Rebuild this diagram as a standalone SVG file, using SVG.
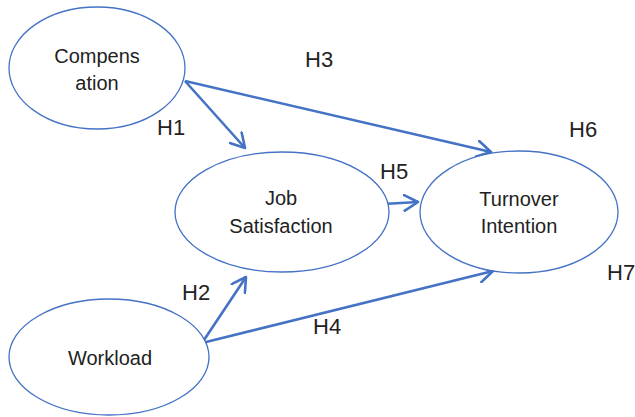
<svg xmlns="http://www.w3.org/2000/svg" width="635" height="417" viewBox="0 0 635 417">
<style>
.node{fill:#fff;stroke:#4472C4;stroke-width:1.3}
.lbl{font-family:"Liberation Sans",Arial,sans-serif;font-size:20px;fill:#222;text-anchor:middle}
.h{font-family:"Liberation Sans",Arial,sans-serif;font-size:22px;fill:#222}
.edge{stroke:#4472C4;stroke-width:2.6;fill:none;marker-end:url(#arr)}
</style>
<defs>
<marker id="arr" viewBox="0 0 18 18" markerWidth="18" markerHeight="18" markerUnits="userSpaceOnUse" refX="15" refY="9" orient="auto">
<path d="M1,1 L15,9 L1,17" fill="none" stroke="#4472C4" stroke-width="2.6" stroke-linejoin="round" stroke-linecap="round"/>
</marker>
</defs>
<rect width="635" height="417" fill="#fff"/>
<g id="edges">
<line class="edge" x1="185" y1="81" x2="245" y2="148"/>
<line class="edge" x1="185" y1="81" x2="491" y2="152"/>
<line class="edge" x1="383" y1="204" x2="418" y2="202"/>
<line class="edge" x1="202" y1="343" x2="246" y2="277"/>
<line class="edge" x1="202" y1="343" x2="493" y2="271"/>
</g>
<g id="compensation">
<ellipse class="node" cx="97" cy="68" rx="88" ry="61"/>
<text class="lbl" x="97" y="63">Compens</text>
<text class="lbl" x="97" y="90">ation</text>
</g>
<g id="job-satisfaction">
<ellipse class="node" cx="282" cy="212" rx="107" ry="60"/>
<text class="lbl" x="281" y="205">Job</text>
<text class="lbl" x="281" y="233">Satisfaction</text>
</g>
<g id="turnover-intention">
<ellipse class="node" cx="519" cy="212" rx="99" ry="61"/>
<text class="lbl" x="519" y="206">Turnover</text>
<text class="lbl" x="519" y="233">Intention</text>
</g>
<g id="workload">
<ellipse class="node" cx="109" cy="357" rx="100" ry="58"/>
<text class="lbl" x="110" y="365">Workload</text>
</g>
<g id="labels">
<text class="h" x="305" y="67">H3</text>
<text class="h" x="157" y="135">H1</text>
<text class="h" x="569" y="137">H6</text>
<text class="h" x="380" y="179">H5</text>
<text class="h" x="607" y="280">H7</text>
<text class="h" x="182" y="300">H2</text>
<text class="h" x="313" y="334">H4</text>
</g>
</svg>
